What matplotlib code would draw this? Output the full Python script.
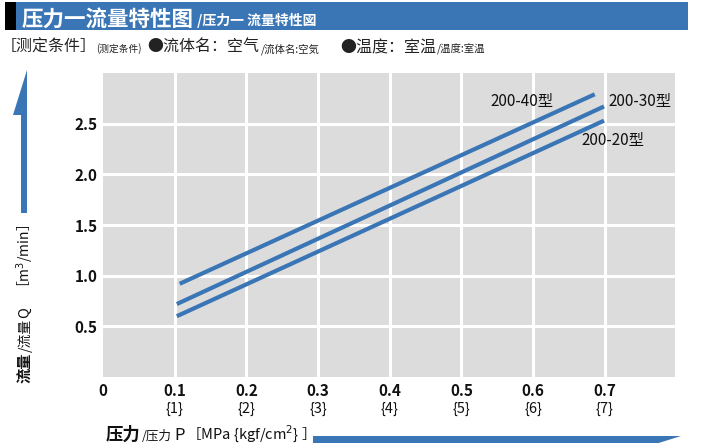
import matplotlib
matplotlib.use("Agg")
import matplotlib.pyplot as plt
from matplotlib.patches import Rectangle, Polygon

# ---- data ----
series_names = ["200-40型", "200-30型", "200-20型"]
p_40 = [0.107, 0.686]
q_40 = [0.92, 2.79]
p_30 = [0.103, 0.699]
q_30 = [0.72, 2.67]
p_20 = [0.103, 0.699]
q_20 = [0.60, 2.53]
label_pos = [(0.584, 2.72), (0.749, 2.72), (0.711, 2.33)]

x_ticks = [0, 0.1, 0.2, 0.3, 0.4, 0.5, 0.6, 0.7]
x_tick_labels = ["0", "0.1", "0.2", "0.3", "0.4", "0.5", "0.6", "0.7"]
x_tick_labels2 = ["", "{1}", "{2}", "{3}", "{4}", "{5}", "{6}", "{7}"]
y_ticks = [0.5, 1.0, 1.5, 2.0, 2.5]
y_tick_labels = ["0.5", "1.0", "1.5", "2.0", "2.5"]

BLUE = "#3a76b6"
NARROW = ["Liberation Sans Narrow", "Noto Sans CJK SC", "DejaVu Sans"]
CJK = ["Noto Sans CJK SC", "DejaVu Sans"]

W, H = 702, 443
fig = plt.figure(figsize=(W / 100, H / 100), dpi=100)

# overlay axes in pixel coordinates
ov = fig.add_axes([0, 0, 1, 1], zorder=0)
ov.set_xlim(0, W)
ov.set_ylim(H, 0)
ov.axis("off")

# main axes
L, R, T, B = 103, 675, 73, 377
ax = fig.add_axes([L / W, (H - B) / H, (R - L) / W, (B - T) / H], zorder=1)
ax.set_facecolor("#dcdcdc")
ax.set_xlim(0, 0.798)
ax.set_ylim(0, 3.0)
for s in ax.spines.values():
    s.set_visible(False)
ax.set_xticks(x_ticks[1:])
ax.set_yticks(y_ticks)
ax.grid(True, color="white", linewidth=2.2)
ax.set_axisbelow(True)
ax.tick_params(length=0)
ax.set_xticklabels([])
ax.set_yticklabels(y_tick_labels, fontfamily=NARROW, fontweight="bold",
                   fontsize=11, color="#111111")
ax.tick_params(axis="y", pad=4)

# lines
for p, q in [(p_40, q_40), (p_30, q_30), (p_20, q_20)]:
    ax.plot(p, q, color=BLUE, linewidth=3.0, solid_capstyle="butt")
for name, (px, py) in zip(series_names, label_pos):
    ax.text(px, py, name, ha="center", va="center", fontsize=11,
            fontfamily=NARROW, color="#111111")

# x tick labels (two rows)
xt = ax.get_xaxis_transform()
for xv, l1, l2 in zip(x_ticks, x_tick_labels, x_tick_labels2):
    ax.text(xv, -0.045, l1, transform=xt, ha="center", va="center",
            fontsize=11, fontweight="bold", fontfamily=NARROW,
            color="#111111", clip_on=False)
    if l2:
        ax.text(xv, -0.105, l2, transform=xt, ha="center", va="center",
                fontsize=10.5, fontfamily=NARROW, color="#111111",
                clip_on=False)

# header
ov.add_patch(Rectangle((5, 2), 11, 28, color="black", lw=0))
ov.add_patch(Rectangle((16, 2), 672, 28, color=BLUE, lw=0))
ov.text(22, 25.5, "压力一流量特性图", ha="left", va="baseline", fontsize=15.5,
        fontweight="bold", color="white", fontfamily=CJK)
ov.text(197, 25, "/压力一 流量特性図", ha="left", va="baseline", fontsize=10,
        fontweight="bold", color="white", fontfamily=CJK)

# condition line
cy = 52
ov.text(1, cy, "［测定条件］", ha="left", va="baseline", fontsize=11.5,
        color="#222222", fontfamily=CJK)
ov.text(96, cy, "(测定条件)", ha="left", va="baseline", fontsize=7,
        color="#222222", fontfamily=CJK)
ov.text(147, cy, "●流体名：空气", ha="left", va="baseline", fontsize=11.5,
        color="#222222", fontfamily=CJK)
ov.text(261, cy, "/流体名:空気", ha="left", va="baseline", fontsize=7.5,
        color="#222222", fontfamily=CJK)
ov.text(340, cy, "●温度：室温", ha="left", va="baseline", fontsize=11.5,
        color="#222222", fontfamily=CJK)
ov.text(437, cy, "/温度:室温", ha="left", va="baseline", fontsize=7.5,
        color="#222222", fontfamily=CJK)

# vertical arrow
ov.add_patch(Polygon([(27, 70), (27, 213), (20.5, 213), (20.5, 115), (13, 115)],
                     closed=True, color=BLUE, lw=0))
# horizontal arrow
ov.add_patch(Polygon([(313, 436), (681, 436), (630, 452), (630, 446), (313, 446)],
                     closed=True, color=BLUE, lw=0))

# y axis label (rotated pieces, from bottom upward)
yx = 25
ov.text(yx, 383, "流量", rotation=90, ha="center", va="bottom", fontsize=11,
        fontweight="bold", color="#111111", fontfamily=CJK)
ov.text(yx, 352, "/流量", rotation=90, ha="center", va="bottom", fontsize=10,
        color="#111111", fontfamily=CJK)
ov.text(yx, 318, "Q", rotation=90, ha="center", va="bottom", fontsize=10.5,
        color="#111111", fontfamily=NARROW)
ov.text(yx, 295, "［m$^3$/min］", rotation=90, ha="center", va="bottom",
        fontsize=10, color="#111111", fontfamily=NARROW)

# x axis label
xy = 440
ov.text(106, xy, "压力", ha="left", va="baseline", fontsize=12.5,
        fontweight="bold", color="#111111", fontfamily=CJK)
ov.text(142, xy, "/压力", ha="left", va="baseline", fontsize=9,
        color="#111111", fontfamily=CJK)
ov.text(174, xy, "P", ha="left", va="baseline", fontsize=12,
        color="#111111", fontfamily=NARROW)
ov.text(186, xy - 1.5, "［MPa {kgf/cm$^2$} ］", ha="left", va="baseline",
        fontsize=10.5, color="#111111", fontfamily=NARROW)

fig.savefig("out.png", dpi=100)
